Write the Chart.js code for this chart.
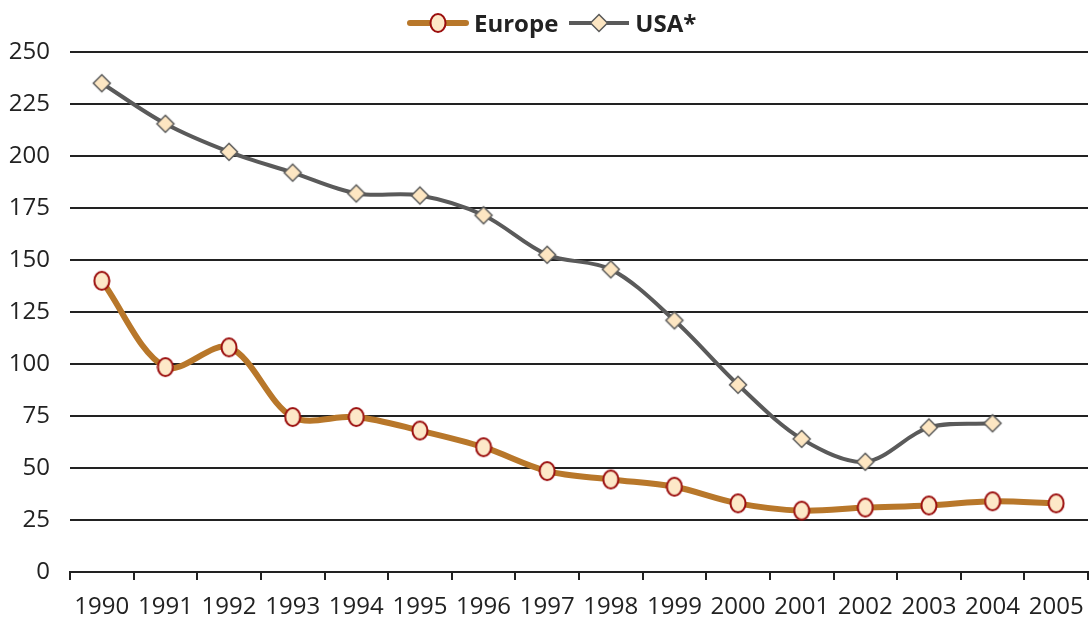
<!DOCTYPE html>
<html>
<head>
<meta charset="utf-8">
<script src="https://cdn.jsdelivr.net/npm/chart.js@4.4.1/dist/chart.umd.min.js"></script>
<style>
  html, body { margin: 0; padding: 0; background: #fff; overflow: hidden; }
  #wrap { position: relative; width: 1098px; height: 624px; }
  #legend {
    position: absolute; top: 7px; left: 407px;
    display: flex; align-items: center; height: 32px;
    font-family: 'Open Sans', 'Noto Sans', sans-serif;
    font-size: 24px; font-weight: bold; color: #222;
  }
  #legend canvas { display: block; }
  #legend span { margin: 0 10px 0 5px; line-height: 32px; }
</style>
</head>
<body>
<div id="wrap">
  <canvas id="chart"></canvas>
  <div id="legend"></div>
</div>
<script>
// Годы по оси X
const years = ['1990', '1991', '1992', '1993', '1994', '1995', '1996', '1997',
  '1998', '1999', '2000', '2001', '2002', '2003', '2004', '2005'];
// Значения для Европы
const europeValues = [140, 98.5, 108, 74.5, 74.5, 68, 60, 48.5, 44.5, 41, 33, 29.5, 31, 32, 34, 33];
// Значения для США (за 2005 нет данных)
const usaValues = [235, 215.5, 202, 192, 182, 181, 171.5, 152.5, 145.5, 121, 90, 64, 53, 69.5, 71.5, null];
// Метки оси Y
const yTicks = [0, 25, 50, 75, 100, 125, 150, 175, 200, 225, 250];

const FONT = "'Open Sans', 'Noto Sans', sans-serif";

// Маркер-эллипс для Европы
function ellipseMarker(withLine) {
  const c = document.createElement('canvas');
  c.width = withLine ? 62 : 18;
  c.height = 22;
  const g = c.getContext('2d');
  const cx = c.width / 2;
  if (withLine) {
    g.strokeStyle = '#b8772a';
    g.lineWidth = 6;
    g.lineCap = 'round';
    g.beginPath(); g.moveTo(3, 11); g.lineTo(59, 11); g.stroke();
  }
  g.fillStyle = '#fde8c8';
  g.strokeStyle = '#9b0e0e';
  g.lineWidth = 2;
  g.beginPath();
  g.ellipse(cx, 11, 7.5, 9, 0, 0, Math.PI * 2);
  g.fill(); g.stroke();
  return c;
}

// Маркер-ромб для США
function diamondMarker(withLine) {
  const c = document.createElement('canvas');
  c.width = withLine ? 62 : 22;
  c.height = 22;
  const g = c.getContext('2d');
  const cx = c.width / 2;
  if (withLine) {
    g.strokeStyle = '#5a5a5a';
    g.lineWidth = 4;
    g.beginPath(); g.moveTo(1, 11); g.lineTo(61, 11); g.stroke();
  }
  g.fillStyle = '#fde6c2';
  g.strokeStyle = '#5a5a5a';
  g.lineWidth = 1.5;
  g.beginPath();
  g.moveTo(cx, 2.5); g.lineTo(cx + 8.5, 11); g.lineTo(cx, 19.5); g.lineTo(cx - 8.5, 11);
  g.closePath();
  g.fill(); g.stroke();
  return c;
}

const europePoint = ellipseMarker(false);
const usaPoint = diamondMarker(false);

// Легенда собираем руками - так проще выставить отступы как в оригинале
const legendEl = document.getElementById('legend');
[[ellipseMarker(true), 'Europe'], [diamondMarker(true), 'USA*']].forEach(([img, text]) => {
  legendEl.appendChild(img);
  const s = document.createElement('span');
  s.textContent = text;
  legendEl.appendChild(s);
});

const ctx = document.getElementById('chart').getContext('2d');
new Chart(ctx, {
  type: 'line',
  data: {
    labels: years,
    datasets: [
      {
        label: 'Europe',
        data: europeValues,
        borderColor: '#b8772a',
        borderWidth: 6,
        tension: 0.33,
        pointStyle: europePoint
      },
      {
        label: 'USA*',
        data: usaValues,
        borderColor: '#5a5a5a',
        borderWidth: 4,
        tension: 0.33,
        pointStyle: usaPoint
      }
    ]
  },
  options: {
    responsive: true,
    maintainAspectRatio: false,
    animation: false,
    layout: { padding: { left: 0, right: 0, top: 52, bottom: 0 } },
    plugins: {
      tooltip: { enabled: false },
      legend: { display: false }
    },
    scales: {
      x: {
        offset: true,
        grid: {
          offset: true,
          drawOnChartArea: false,
          color: '#222',
          lineWidth: 2,
          tickLength: 8
        },
        border: { display: true, color: '#222', width: 2 },
        ticks: {
          color: '#222',
          padding: 13,
          maxRotation: 0,
          autoSkip: false,
          font: { family: FONT, size: 24 }
        },
        afterFit(scale) { scale.height = 52; }
      },
      y: {
        min: 0,
        max: 250,
        afterBuildTicks(scale) { scale.ticks = yTicks.map(v => ({ value: v })); },
        grid: { color: '#222', lineWidth: 2, drawTicks: false },
        border: { display: false },
        ticks: {
          color: '#222',
          padding: 20,
          font: { family: FONT, size: 24 }
        },
        afterFit(scale) { scale.width = 70; }
      }
    }
  }
});
</script>
</body>
</html>
